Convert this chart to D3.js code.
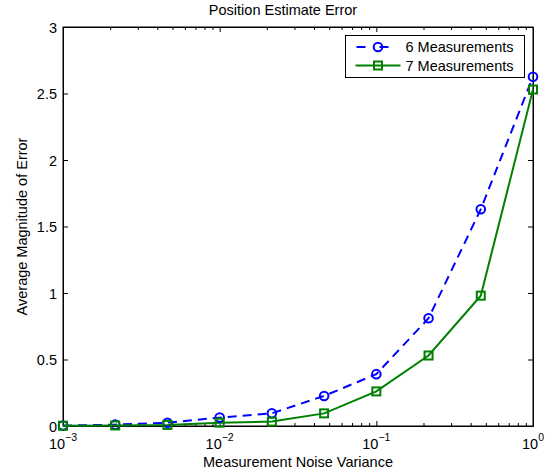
<!DOCTYPE html>
<html>
<head>
<meta charset="utf-8">
<script src="https://cdn.jsdelivr.net/npm/d3@7"></script>
<style>
  body { margin: 0; background: #fff; }
  text { font-family: "Liberation Sans", Arial, Helvetica, sans-serif; fill: #000; }
</style>
</head>
<body>
<div class="chart"></div>
<script>
const noiseVar = [0.001, 0.002154, 0.004642, 0.01, 0.02154, 0.04642, 0.1, 0.2154, 0.4642, 1];
const err6 = [0.003, 0.01, 0.025, 0.063, 0.095, 0.226, 0.39, 0.81, 1.63, 2.626];
const err7 = [0.002, 0.004, 0.008, 0.025, 0.033, 0.095, 0.26, 0.53, 0.98, 2.53];
const seriesNames = ['6 Measurements', '7 Measurements'];
const xMajor = [0.001, 0.01, 0.1, 1];
const xExp = ['\u22123', '\u22122', '\u22121', '0'];
const yTicks = [0, 0.5, 1, 1.5, 2, 2.5, 3];

const margin = {top: 27, left: 63, bottom: 50, right: 22};
const width = 555 - margin.left - margin.right;
const height = 476 - margin.top - margin.bottom;

const svg = d3.select('.chart')
    .append('svg')
    .attr('width', 555)
    .attr('height', 476);

const g = svg.append('g')
    .attr('transform', 'translate(' + margin.left + ',' + margin.top + ')');

const xScale = d3.scaleLog().domain([0.001, 1]).range([0, width]);
const yScale = d3.scaleLinear().domain([0, 3]).range([height, 0]);

// minor log ticks
let xMinor = [];
for (let e = -3; e < 0; e++) {
    for (let m = 2; m <= 9; m++) xMinor.push(m * Math.pow(10, e));
}

const fontSize = '14.5px';

// bottom axis
g.append('g')
    .attr('transform', 'translate(0,' + height + ')')
    .call(d3.axisBottom(xScale).tickValues(xMinor).tickSize(-3).tickFormat('').tickSizeOuter(0));
const bottomMajor = g.append('g')
    .attr('class', 'x-axis')
    .attr('transform', 'translate(0,' + height + ')')
    .call(d3.axisBottom(xScale).tickValues(xMajor).tickSize(-5).tickSizeOuter(0).tickPadding(0).tickFormat(''));

// top axis
g.append('g')
    .call(d3.axisTop(xScale).tickValues(xMinor).tickSize(-3).tickFormat('').tickSizeOuter(0));
g.append('g')
    .call(d3.axisTop(xScale).tickValues(xMajor).tickSize(-5).tickFormat('').tickSizeOuter(0));

// left / right axis
g.append('g')
    .attr('class', 'y-axis')
    .call(d3.axisLeft(yScale).tickValues(yTicks).tickSize(-5).tickSizeOuter(0).tickPadding(6).tickFormat(d3.format('')))
    .selectAll('text')
    .style('font-size', fontSize)
    .attr('dy', '0.35em');
g.append('g')
    .attr('transform', 'translate(' + width + ',0)')
    .call(d3.axisRight(yScale).tickValues(yTicks).tickSize(-5).tickFormat('').tickSizeOuter(0));

g.selectAll('.domain').attr('stroke', '#000');
g.selectAll('.tick line').attr('stroke', '#000');

// x labels with superscript
const xl = g.append('g').attr('transform', 'translate(0,' + height + ')');
xMajor.forEach((v, i) => {
    const t = xl.append('text')
        .attr('x', xScale(v))
        .attr('y', 23)
        .attr('text-anchor', 'middle')
        .style('font-size', fontSize);
    t.append('tspan').text('10');
    t.append('tspan').attr('dy', -8).style('font-size', '10.5px').text(xExp[i]);
});

// box
g.append('rect')
    .attr('width', width).attr('height', height)
    .attr('fill', 'none').attr('stroke', '#000').attr('stroke-width', 1);

// lines
const line6 = d3.line().x((d, i) => xScale(noiseVar[i])).y(d => yScale(d));
g.append('path')
    .datum(err6)
    .attr('d', line6)
    .attr('fill', 'none')
    .attr('stroke', '#0000ff')
    .attr('stroke-width', 2)
    .attr('stroke-dasharray', '9,6');
g.append('path')
    .datum(err7)
    .attr('d', line6)
    .attr('fill', 'none')
    .attr('stroke', '#008000')
    .attr('stroke-width', 2);

g.selectAll('.m6')
    .data(err6)
    .enter()
    .append('circle')
    .attr('cx', (d, i) => xScale(noiseVar[i]))
    .attr('cy', d => yScale(d))
    .attr('r', 4.3)
    .attr('fill', 'none')
    .attr('stroke', '#0000ff')
    .attr('stroke-width', 2);

g.selectAll('.m7')
    .data(err7)
    .enter()
    .append('rect')
    .attr('x', (d, i) => xScale(noiseVar[i]) - 4)
    .attr('y', d => yScale(d) - 4)
    .attr('width', 8)
    .attr('height', 8)
    .attr('fill', 'none')
    .attr('stroke', '#008000')
    .attr('stroke-width', 2);

// legend
const leg = svg.append('g').attr('transform', 'translate(345.5,35.5)');
leg.append('rect')
    .attr('width', 179).attr('height', 42)
    .attr('fill', '#fff').attr('stroke', '#000').attr('stroke-width', 1);
[0, 1].forEach(i => {
    const ly = 11.5 + i * 18.5;
    leg.append('line')
        .attr('x1', 10).attr('x2', 55).attr('y1', ly).attr('y2', ly)
        .attr('stroke', i === 0 ? '#0000ff' : '#008000')
        .attr('stroke-width', 2)
        .attr('stroke-dasharray', i === 0 ? '9,14' : null)
        .attr('stroke-dashoffset', i === 0 ? -1 : null);
    if (i === 0) {
        leg.append('circle').attr('cx', 32.5).attr('cy', ly).attr('r', 4.3)
            .attr('fill', 'none').attr('stroke', '#0000ff').attr('stroke-width', 2);
    } else {
        leg.append('rect').attr('x', 28.5).attr('y', ly - 4).attr('width', 8).attr('height', 8)
            .attr('fill', 'none').attr('stroke', '#008000').attr('stroke-width', 2);
    }
    leg.append('text')
        .attr('x', 60).attr('y', ly).attr('dy', '0.35em')
        .style('font-size', fontSize)
        .text(seriesNames[i]);
});

// titles
svg.append('text')
    .attr('x', 283).attr('y', 15)
    .attr('text-anchor', 'middle')
    .style('font-size', fontSize)
    .text('Position Estimate Error');
svg.append('text')
    .attr('x', margin.left + width / 2).attr('y', 467)
    .attr('text-anchor', 'middle')
    .style('font-size', fontSize)
    .text('Measurement Noise Variance');
svg.append('text')
    .attr('transform', 'translate(27,' + (margin.top + height / 2) + ') rotate(-90)')
    .attr('text-anchor', 'middle')
    .style('font-size', fontSize)
    .text('Average Magnitude of Error');
</script>
</body>
</html>
